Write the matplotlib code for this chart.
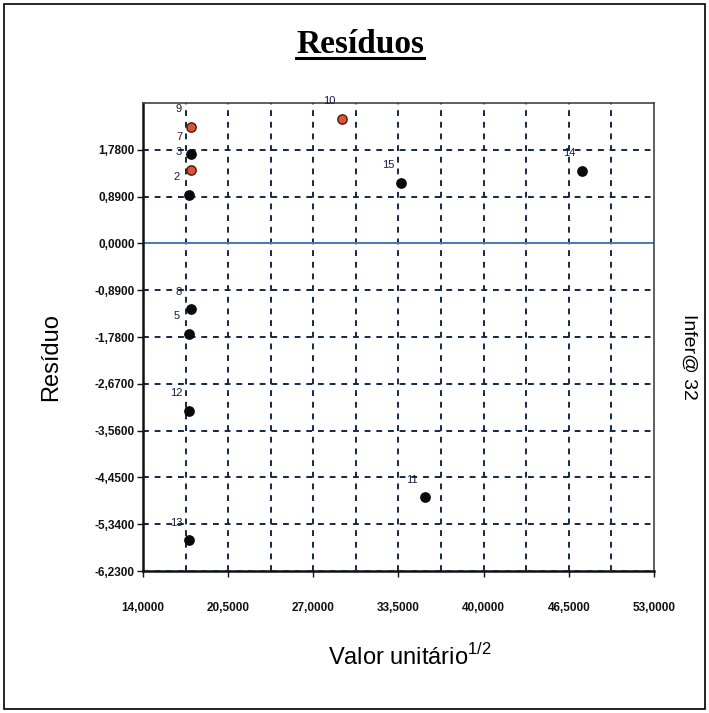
import matplotlib
matplotlib.use("Agg")
import matplotlib.pyplot as plt
from matplotlib.lines import Line2D
from matplotlib.patches import Rectangle
from matplotlib.ticker import FixedLocator, FuncFormatter

# pontos (numero do dado, valor unitario^1/2, residuo, cor)
ids = [9, 7, 3, 2, 8, 5, 12, 13, 10, 15, 14, 11]
x_vals = [17.7, 17.7, 17.7, 17.5, 17.7, 17.5, 17.5, 17.5, 29.2, 33.7, 47.5, 35.5]
res = [2.22, 1.70, 1.40, 0.93, -1.25, -1.72, -3.18, -5.64, 2.37, 1.15, 1.38, -4.83]
red_pts = [9, 3, 10]

y_ticks = [-6.23, -5.34, -4.45, -3.56, -2.67, -1.78, -0.89, 0.0, 0.89, 1.78]
x_ticks = [14.0, 20.5, 27.0, 33.5, 40.0, 46.5, 53.0]

plt.rcParams['font.family'] = ['Liberation Sans Narrow', 'Liberation Sans', 'DejaVu Sans']

fig = plt.figure(figsize=(7.09, 7.13), dpi=100)
ax = fig.add_axes([0.2017, 0.199, 0.7207, 0.6565])

ax.set_xlim(14, 53)
ax.set_ylim(-6.23, 2.67)

grid_col = "#13294b"
# grades verticais a cada meio passo
vx = [x_ticks[0] + 3.25 * i for i in range(1, 12)]
for v in vx:
    ax.axvline(v, color=grid_col, ls=(0, (3, 3)), lw=1.4, zorder=1)
for t in y_ticks:
    if t == 0.0:
        ax.axhline(t, color="#3d7db5", lw=1.4, zorder=1)
    elif t == y_ticks[0]:
        ax.axhline(t, color="#5a8ac0", ls=(0, (3, 3)), lw=1.4, zorder=1)
    else:
        ax.axhline(t, color=grid_col, ls=(0, (3, 3)), lw=1.4, zorder=1)

for i, x, r in zip(ids, x_vals, res):
    if i in red_pts:
        fc, ec = "#d8553a", "#4a1a12"
    else:
        fc, ec = "#0a0a0a", "#0a0a0a"
    ax.scatter(x, r, s=45, color=fc, edgecolors=ec, linewidths=1.0, zorder=3, clip_on=False)
    ax.annotate(str(i), (x, r), xytext=(-9, 9), textcoords="offset points",
                ha="center", va="bottom", fontsize=8, color="#1a1a3a", zorder=4,
                annotation_clip=False)

fmt = FuncFormatter(lambda v, p: f"{v:.4f}".replace(".", ","))
ax.yaxis.set_major_locator(FixedLocator(y_ticks))
ax.xaxis.set_major_locator(FixedLocator(x_ticks))
ax.yaxis.set_major_formatter(fmt)
ax.xaxis.set_major_formatter(fmt)
ax.tick_params(axis="y", labelsize=8.5, length=4, width=1, pad=2, colors="#111111")
ax.tick_params(axis="x", labelsize=8.5, length=4, width=1, pad=18, colors="#111111")
for lab in ax.get_xticklabels() + ax.get_yticklabels():
    lab.set_fontweight("bold")

for s in ["left", "bottom"]:
    ax.spines[s].set_linewidth(1.8)
    ax.spines[s].set_color("#111111")
for s in ["top", "right"]:
    ax.spines[s].set_linewidth(1.2)
    ax.spines[s].set_color("#444444")

fig.text(0.072, 0.499, "Resíduo", rotation=90, ha="center", va="center", fontsize=17)
fig.text(0.578, 0.078, "Valor unitário$^{\\mathregular{1/2}}$", ha="center", va="center", fontsize=17)
fig.text(0.972, 0.5, "Infer@ 32", rotation=-90, ha="center", va="center", fontsize=14)

title = fig.text(0.508, 0.938, "Resíduos", ha="center", va="center", fontsize=24,
                 fontweight="bold", family=["Liberation Serif", "DejaVu Serif"])
fig.canvas.draw()
bb = title.get_window_extent().transformed(fig.transFigure.inverted())
fig.add_artist(Line2D([bb.x0, bb.x1], [bb.y0 + 0.002, bb.y0 + 0.002], color="black",
                      lw=2.2, transform=fig.transFigure))

fig.add_artist(Rectangle((0.006, 0.006), 0.988, 0.988, fill=False, ec="black",
                         lw=1.2, transform=fig.transFigure))

fig.savefig("out.png", dpi=100)
